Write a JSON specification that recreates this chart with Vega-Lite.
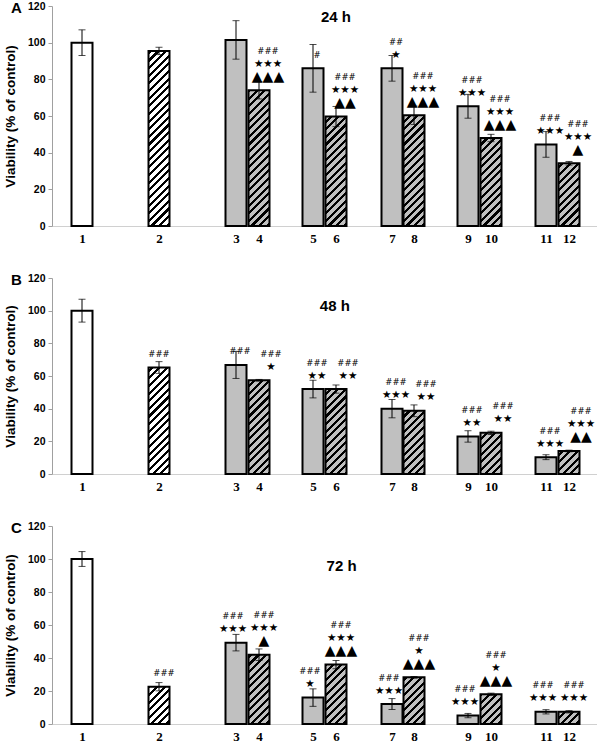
{
  "$schema": "https://vega.github.io/schema/vega-lite/v6.json",
  "padding": {"left": 3, "top": 0, "right": 0, "bottom": 0},
  "background": "white",
  "spacing": 27,
  "config": {"view": {"stroke": null}, "axis": {"grid": false},
    "axisY": {"tickCount": 7, "labelOverlap": false, "tickSize": 4, "tickColor": "#a0a0a0", "domainColor": "#a0a0a0", "labelFont": "Liberation Sans", "labelFontWeight": "bold", "labelFontSize": 10.5, "labelColor": "black", "labelPadding": 3, "titleFont": "Liberation Sans", "titleFontWeight": "bold", "titleFontSize": 13.5, "titleColor": "black", "titlePadding": 10}},
  "params": [
    {"name": "hatch", "value": [
      {"offset":0,"color":"#000"},{"offset":0.0125,"color":"#000"},{"offset":0.0125,"color":"rgba(0,0,0,0)"},{"offset":0.03125,"color":"rgba(0,0,0,0)"},
      {"offset":0.03125,"color":"#000"},{"offset":0.04375,"color":"#000"},{"offset":0.04375,"color":"rgba(0,0,0,0)"},{"offset":0.0625,"color":"rgba(0,0,0,0)"},
      {"offset":0.0625,"color":"#000"},{"offset":0.075,"color":"#000"},{"offset":0.075,"color":"rgba(0,0,0,0)"},{"offset":0.09375,"color":"rgba(0,0,0,0)"},
      {"offset":0.09375,"color":"#000"},{"offset":0.10625,"color":"#000"},{"offset":0.10625,"color":"rgba(0,0,0,0)"},{"offset":0.125,"color":"rgba(0,0,0,0)"},
      {"offset":0.125,"color":"#000"},{"offset":0.1375,"color":"#000"},{"offset":0.1375,"color":"rgba(0,0,0,0)"},{"offset":0.15625,"color":"rgba(0,0,0,0)"},
      {"offset":0.15625,"color":"#000"},{"offset":0.16875,"color":"#000"},{"offset":0.16875,"color":"rgba(0,0,0,0)"},{"offset":0.1875,"color":"rgba(0,0,0,0)"},
      {"offset":0.1875,"color":"#000"},{"offset":0.2,"color":"#000"},{"offset":0.2,"color":"rgba(0,0,0,0)"},{"offset":0.21875,"color":"rgba(0,0,0,0)"},
      {"offset":0.21875,"color":"#000"},{"offset":0.23125,"color":"#000"},{"offset":0.23125,"color":"rgba(0,0,0,0)"},{"offset":0.25,"color":"rgba(0,0,0,0)"},
      {"offset":0.25,"color":"#000"},{"offset":0.2625,"color":"#000"},{"offset":0.2625,"color":"rgba(0,0,0,0)"},{"offset":0.28125,"color":"rgba(0,0,0,0)"},
      {"offset":0.28125,"color":"#000"},{"offset":0.29375,"color":"#000"},{"offset":0.29375,"color":"rgba(0,0,0,0)"},{"offset":0.3125,"color":"rgba(0,0,0,0)"},
      {"offset":0.3125,"color":"#000"},{"offset":0.325,"color":"#000"},{"offset":0.325,"color":"rgba(0,0,0,0)"},{"offset":0.34375,"color":"rgba(0,0,0,0)"},
      {"offset":0.34375,"color":"#000"},{"offset":0.35625,"color":"#000"},{"offset":0.35625,"color":"rgba(0,0,0,0)"},{"offset":0.375,"color":"rgba(0,0,0,0)"},
      {"offset":0.375,"color":"#000"},{"offset":0.3875,"color":"#000"},{"offset":0.3875,"color":"rgba(0,0,0,0)"},{"offset":0.40625,"color":"rgba(0,0,0,0)"},
      {"offset":0.40625,"color":"#000"},{"offset":0.41875,"color":"#000"},{"offset":0.41875,"color":"rgba(0,0,0,0)"},{"offset":0.4375,"color":"rgba(0,0,0,0)"},
      {"offset":0.4375,"color":"#000"},{"offset":0.45,"color":"#000"},{"offset":0.45,"color":"rgba(0,0,0,0)"},{"offset":0.46875,"color":"rgba(0,0,0,0)"},
      {"offset":0.46875,"color":"#000"},{"offset":0.48125,"color":"#000"},{"offset":0.48125,"color":"rgba(0,0,0,0)"},{"offset":0.5,"color":"rgba(0,0,0,0)"},
      {"offset":0.5,"color":"#000"},{"offset":0.5125,"color":"#000"},{"offset":0.5125,"color":"rgba(0,0,0,0)"},{"offset":0.53125,"color":"rgba(0,0,0,0)"},
      {"offset":0.53125,"color":"#000"},{"offset":0.54375,"color":"#000"},{"offset":0.54375,"color":"rgba(0,0,0,0)"},{"offset":0.5625,"color":"rgba(0,0,0,0)"},
      {"offset":0.5625,"color":"#000"},{"offset":0.575,"color":"#000"},{"offset":0.575,"color":"rgba(0,0,0,0)"},{"offset":0.59375,"color":"rgba(0,0,0,0)"},
      {"offset":0.59375,"color":"#000"},{"offset":0.60625,"color":"#000"},{"offset":0.60625,"color":"rgba(0,0,0,0)"},{"offset":0.625,"color":"rgba(0,0,0,0)"},
      {"offset":0.625,"color":"#000"},{"offset":0.6375,"color":"#000"},{"offset":0.6375,"color":"rgba(0,0,0,0)"},{"offset":0.65625,"color":"rgba(0,0,0,0)"},
      {"offset":0.65625,"color":"#000"},{"offset":0.66875,"color":"#000"},{"offset":0.66875,"color":"rgba(0,0,0,0)"},{"offset":0.6875,"color":"rgba(0,0,0,0)"},
      {"offset":0.6875,"color":"#000"},{"offset":0.7,"color":"#000"},{"offset":0.7,"color":"rgba(0,0,0,0)"},{"offset":0.71875,"color":"rgba(0,0,0,0)"},
      {"offset":0.71875,"color":"#000"},{"offset":0.73125,"color":"#000"},{"offset":0.73125,"color":"rgba(0,0,0,0)"},{"offset":0.75,"color":"rgba(0,0,0,0)"},
      {"offset":0.75,"color":"#000"},{"offset":0.7625,"color":"#000"},{"offset":0.7625,"color":"rgba(0,0,0,0)"},{"offset":0.78125,"color":"rgba(0,0,0,0)"},
      {"offset":0.78125,"color":"#000"},{"offset":0.79375,"color":"#000"},{"offset":0.79375,"color":"rgba(0,0,0,0)"},{"offset":0.8125,"color":"rgba(0,0,0,0)"},
      {"offset":0.8125,"color":"#000"},{"offset":0.825,"color":"#000"},{"offset":0.825,"color":"rgba(0,0,0,0)"},{"offset":0.84375,"color":"rgba(0,0,0,0)"},
      {"offset":0.84375,"color":"#000"},{"offset":0.85625,"color":"#000"},{"offset":0.85625,"color":"rgba(0,0,0,0)"},{"offset":0.875,"color":"rgba(0,0,0,0)"},
      {"offset":0.875,"color":"#000"},{"offset":0.8875,"color":"#000"},{"offset":0.8875,"color":"rgba(0,0,0,0)"},{"offset":0.90625,"color":"rgba(0,0,0,0)"},
      {"offset":0.90625,"color":"#000"},{"offset":0.91875,"color":"#000"},{"offset":0.91875,"color":"rgba(0,0,0,0)"},{"offset":0.9375,"color":"rgba(0,0,0,0)"},
      {"offset":0.9375,"color":"#000"},{"offset":0.95,"color":"#000"},{"offset":0.95,"color":"rgba(0,0,0,0)"},{"offset":0.96875,"color":"rgba(0,0,0,0)"},
      {"offset":0.96875,"color":"#000"},{"offset":0.98125,"color":"#000"},{"offset":0.98125,"color":"rgba(0,0,0,0)"},{"offset":1,"color":"rgba(0,0,0,0)"}
    ]}
  ],
  "datasets": {
    "barsA": [
      {"bar":1,"v":100,"e":7},{"bar":2,"v":95.5,"e":2},{"bar":3,"v":101.5,"e":10.5},{"bar":4,"v":74,"e":4.7},
      {"bar":5,"v":86,"e":13},{"bar":6,"v":59.7,"e":5.5},{"bar":7,"v":86,"e":7},{"bar":8,"v":60.4,"e":5},
      {"bar":9,"v":65.3,"e":6.5},{"bar":10,"v":48,"e":2},{"bar":11,"v":44.5,"e":7},{"bar":12,"v":34.2,"e":1}
    ],
    "barsB": [
      {"bar":1,"v":100,"e":7},{"bar":2,"v":65.2,"e":3.6},{"bar":3,"v":66.8,"e":8.3},{"bar":4,"v":57.4,"e":0.5},
      {"bar":5,"v":52,"e":5.4},{"bar":6,"v":52,"e":2.5},{"bar":7,"v":40,"e":5.6},{"bar":8,"v":38.7,"e":3.6},
      {"bar":9,"v":23,"e":3.5},{"bar":10,"v":25.2,"e":1},{"bar":11,"v":10.3,"e":1.5},{"bar":12,"v":14.1,"e":0.5}
    ],
    "barsC": [
      {"bar":1,"v":100,"e":4.5},{"bar":2,"v":22.6,"e":2.5},{"bar":3,"v":49.3,"e":5},{"bar":4,"v":42,"e":3.5},
      {"bar":5,"v":16,"e":5.3},{"bar":6,"v":36,"e":2.5},{"bar":7,"v":12.1,"e":3.3},{"bar":8,"v":28.3,"e":0.5},
      {"bar":9,"v":5.1,"e":1.3},{"bar":10,"v":18,"e":0.7},{"bar":11,"v":7.4,"e":1.3},{"bar":12,"v":7.4,"e":0.7}
    ],
    "notesA": [
      {"bar":4,"k":2,"t":"###"},{"bar":4,"k":1,"t":"★★★"},{"bar":4,"k":0,"t":"▲▲▲"},
      {"bar":5,"k":0,"t":"#"},
      {"bar":6,"k":2,"t":"###"},{"bar":6,"k":1,"t":"★★★"},{"bar":6,"k":0,"t":"▲▲"},
      {"bar":7,"k":1,"t":"##"},{"bar":7,"k":0,"t":"★"},
      {"bar":8,"k":2,"t":"###"},{"bar":8,"k":1,"t":"★★★"},{"bar":8,"k":0,"t":"▲▲▲"},
      {"bar":9,"k":1,"t":"###"},{"bar":9,"k":0,"t":"★★★"},
      {"bar":10,"k":2,"t":"###"},{"bar":10,"k":1,"t":"★★★"},{"bar":10,"k":0,"t":"▲▲▲"},
      {"bar":11,"k":1,"t":"###"},{"bar":11,"k":0,"t":"★★★"},
      {"bar":12,"k":2,"t":"###"},{"bar":12,"k":1,"t":"★★★"},{"bar":12,"k":0,"t":"▲"}
    ],
    "notesB": [
      {"bar":2,"k":0,"t":"###"},
      {"bar":3,"k":0,"t":"###"},
      {"bar":4,"k":1,"t":"###"},{"bar":4,"k":0,"t":"★"},
      {"bar":5,"k":1,"t":"###"},{"bar":5,"k":0,"t":"★★"},
      {"bar":6,"k":1,"t":"###"},{"bar":6,"k":0,"t":"★★"},
      {"bar":7,"k":1,"t":"###"},{"bar":7,"k":0,"t":"★★★"},
      {"bar":8,"k":1,"t":"###"},{"bar":8,"k":0,"t":"★★"},
      {"bar":9,"k":1,"t":"###"},{"bar":9,"k":0,"t":"★★"},
      {"bar":10,"k":1,"t":"###"},{"bar":10,"k":0,"t":"★★"},
      {"bar":11,"k":1,"t":"###"},{"bar":11,"k":0,"t":"★★★"},
      {"bar":12,"k":2,"t":"###"},{"bar":12,"k":1,"t":"★★★"},{"bar":12,"k":0,"t":"▲▲"}
    ],
    "notesC": [
      {"bar":2,"k":0,"t":"###"},
      {"bar":3,"k":1,"t":"###"},{"bar":3,"k":0,"t":"★★★"},
      {"bar":4,"k":2,"t":"###"},{"bar":4,"k":1,"t":"★★★"},{"bar":4,"k":0,"t":"▲"},
      {"bar":5,"k":1,"t":"###"},{"bar":5,"k":0,"t":"★"},
      {"bar":6,"k":2,"t":"###"},{"bar":6,"k":1,"t":"★★★"},{"bar":6,"k":0,"t":"▲▲▲"},
      {"bar":7,"k":1,"t":"###"},{"bar":7,"k":0,"t":"★★★"},
      {"bar":8,"k":2,"t":"###"},{"bar":8,"k":1,"t":"★"},{"bar":8,"k":0,"t":"▲▲▲"},
      {"bar":9,"k":1,"t":"###"},{"bar":9,"k":0,"t":"★★★"},
      {"bar":10,"k":2,"t":"###"},{"bar":10,"k":1,"t":"★"},{"bar":10,"k":0,"t":"▲▲▲"},
      {"bar":11,"k":1,"t":"###"},{"bar":11,"k":0,"t":"★★★"},
      {"bar":12,"k":1,"t":"###"},{"bar":12,"k":0,"t":"★★★"}
    ]
  },
  "vconcat": [
    {
      "width": 545, "height": 220,
      "data": {"name": "barsA"},
      "layer": [
        {"mark": {"type": "bar", "size": 21},
         "encoding": {
           "x": {"field": "bar", "type": "quantitative",
             "scale": {"domain": [0,1,2,3,4,5,6,7,8,9,10,11,12,13], "range": [0,30,107,184,207,261,284,340,362,416,439,494,517,545], "nice": false, "zero": false},
             "axis": {"values": [1,2,3,4,5,6,7,8,9,10,11,12], "format": "d", "title": null, "ticks": false, "grid": false, "domainColor": "#d0d0d0", "labelFont": "Liberation Serif", "labelFontWeight": "bold", "labelFontSize": 13, "labelColor": "black", "labelPadding": 6, "labelFlush": false, "labelOverlap": false}},
           "y": {"field": "v", "type": "quantitative", "title": "Viability (% of control)", "scale": {"domain": [0,120], "nice": false},
            "axis": {"values": [0,20,40,60,80,100,120], "tickCount": 7, "labelOverlap": false, "grid": false}},
           "fill": {"condition": {"test": "datum.bar <= 2", "value": "white"}, "value": "#c0c0c0"}}},
        {"transform": [{"filter": "datum.bar % 2 == 0"}],
         "mark": {"type": "bar", "size": 21, "fill": {"expr": "{gradient: 'linear', x1: 0, y1: 0, x2: 0.10507, y2: 1.10078, stops: hatch}"}},
         "encoding": {"x": {"field": "bar", "type": "quantitative"}, "y": {"datum": 0}, "y2": {"datum": 120}}},
        {"transform": [{"filter": "datum.bar % 2 == 0"}],
         "mark": {"type": "bar", "size": 22, "fill": "white"},
         "encoding": {"x": {"field": "bar", "type": "quantitative"}, "y": {"field": "v", "type": "quantitative", "title": "Viability (% of control)"}, "y2": {"datum": 120}}},
        {"mark": {"type": "bar", "size": 21, "fill": "transparent", "stroke": "black", "strokeWidth": 2},
         "encoding": {"x": {"field": "bar", "type": "quantitative"}, "y": {"field": "v", "type": "quantitative", "title": "Viability (% of control)"}}},
        {"mark": {"type": "errorbar", "color": "black", "ticks": {"size": 7}, "rule": {"strokeWidth": 1}},
         "encoding": {"x": {"field": "bar", "type": "quantitative"}, "y": {"field": "v", "type": "quantitative", "title": "Viability (% of control)"}, "yError": {"field": "e"}}},
        {"data": {"name": "notesA"},
         "transform": [{"lookup": "bar", "from": {"data": {"name": "barsA"}, "key": "bar", "fields": ["v"]}}],
         "mark": {"type": "text", "font": "DejaVu Sans", "baseline": "middle", "color": "black", "dx": {"expr": "datum.bar % 2 == 0 ? 9 : 4"}, "dy": {"expr": "-13.5 - 13 * datum.k"}},
         "encoding": {"x": {"field": "bar", "type": "quantitative"}, "y": {"field": "v", "type": "quantitative", "title": "Viability (% of control)"}, "text": {"field": "t"},
           "size": {"condition": [{"test": "indexof(datum.t, '#') >= 0", "value": 8.5}, {"test": "indexof(datum.t, '▲') >= 0", "value": 14}], "value": 10.5}}},
        {"data": {"values": [{"label": "24 h"}]},
         "mark": {"type": "text", "font": "Liberation Sans", "fontWeight": "bold", "fontSize": 15, "color": "black", "baseline": "middle"},
         "encoding": {"x": {"datum": 6}, "y": {"datum": 114}, "text": {"field": "label"}}},
        {"data": {"values": [{"label": "A"}]},
         "mark": {"type": "text", "font": "Liberation Sans", "fontWeight": "bold", "fontSize": 15, "color": "black", "baseline": "middle"},
         "encoding": {"x": {"datum": -1.45}, "y": {"datum": 119}, "text": {"field": "label"}}}
      ]
    },
    {
      "width": 545, "height": 196,
      "data": {"name": "barsB"},
      "layer": [
        {"mark": {"type": "bar", "size": 21},
         "encoding": {
           "x": {"field": "bar", "type": "quantitative",
             "scale": {"domain": [0,1,2,3,4,5,6,7,8,9,10,11,12,13], "range": [0,30,107,184,207,261,284,340,362,416,439,494,517,545], "nice": false, "zero": false},
             "axis": {"values": [1,2,3,4,5,6,7,8,9,10,11,12], "format": "d", "title": null, "ticks": false, "grid": false, "domainColor": "#d0d0d0", "labelFont": "Liberation Serif", "labelFontWeight": "bold", "labelFontSize": 13, "labelColor": "black", "labelPadding": 6, "labelFlush": false, "labelOverlap": false}},
           "y": {"field": "v", "type": "quantitative", "title": "Viability (% of control)", "scale": {"domain": [0,120], "nice": false},
            "axis": {"values": [0,20,40,60,80,100,120], "tickCount": 7, "labelOverlap": false, "grid": false}},
           "fill": {"condition": {"test": "datum.bar <= 2", "value": "white"}, "value": "#c0c0c0"}}},
        {"transform": [{"filter": "datum.bar % 2 == 0"}],
         "mark": {"type": "bar", "size": 21, "fill": {"expr": "{gradient: 'linear', x1: 0, y1: 0, x2: 0.13207, y2: 1.23269, stops: hatch}"}},
         "encoding": {"x": {"field": "bar", "type": "quantitative"}, "y": {"datum": 0}, "y2": {"datum": 120}}},
        {"transform": [{"filter": "datum.bar % 2 == 0"}],
         "mark": {"type": "bar", "size": 22, "fill": "white"},
         "encoding": {"x": {"field": "bar", "type": "quantitative"}, "y": {"field": "v", "type": "quantitative", "title": "Viability (% of control)"}, "y2": {"datum": 120}}},
        {"mark": {"type": "bar", "size": 21, "fill": "transparent", "stroke": "black", "strokeWidth": 2},
         "encoding": {"x": {"field": "bar", "type": "quantitative"}, "y": {"field": "v", "type": "quantitative", "title": "Viability (% of control)"}}},
        {"mark": {"type": "errorbar", "color": "black", "ticks": {"size": 7}, "rule": {"strokeWidth": 1}},
         "encoding": {"x": {"field": "bar", "type": "quantitative"}, "y": {"field": "v", "type": "quantitative", "title": "Viability (% of control)"}, "yError": {"field": "e"}}},
        {"data": {"name": "notesB"},
         "transform": [{"lookup": "bar", "from": {"data": {"name": "barsB"}, "key": "bar", "fields": ["v"]}}],
         "mark": {"type": "text", "font": "DejaVu Sans", "baseline": "middle", "color": "black", "dx": {"expr": "datum.bar == 2 ? 0 : (datum.bar % 2 == 0 ? 12 : 4)"}, "dy": {"expr": "-13.5 - 13 * datum.k"}},
         "encoding": {"x": {"field": "bar", "type": "quantitative"}, "y": {"field": "v", "type": "quantitative", "title": "Viability (% of control)"}, "text": {"field": "t"},
           "size": {"condition": [{"test": "indexof(datum.t, '#') >= 0", "value": 8.5}, {"test": "indexof(datum.t, '▲') >= 0", "value": 14}], "value": 10.5}}},
        {"data": {"values": [{"label": "48 h"}]},
         "mark": {"type": "text", "font": "Liberation Sans", "fontWeight": "bold", "fontSize": 15, "color": "black", "baseline": "middle"},
         "encoding": {"x": {"datum": 5.95}, "y": {"datum": 103}, "text": {"field": "label"}}},
        {"data": {"values": [{"label": "B"}]},
         "mark": {"type": "text", "font": "Liberation Sans", "fontWeight": "bold", "fontSize": 15, "color": "black", "baseline": "middle"},
         "encoding": {"x": {"datum": -1.45}, "y": {"datum": 119}, "text": {"field": "label"}}}
      ]
    },
    {
      "width": 545, "height": 198,
      "data": {"name": "barsC"},
      "layer": [
        {"mark": {"type": "bar", "size": 21},
         "encoding": {
           "x": {"field": "bar", "type": "quantitative",
             "scale": {"domain": [0,1,2,3,4,5,6,7,8,9,10,11,12,13], "range": [0,30,107,184,207,261,284,340,362,416,439,494,517,545], "nice": false, "zero": false},
             "axis": {"values": [1,2,3,4,5,6,7,8,9,10,11,12], "format": "d", "title": null, "ticks": false, "grid": false, "domainColor": "#d0d0d0", "labelFont": "Liberation Serif", "labelFontWeight": "bold", "labelFontSize": 13, "labelColor": "black", "labelPadding": 6, "labelFlush": false, "labelOverlap": false}},
           "y": {"field": "v", "type": "quantitative", "title": "Viability (% of control)", "scale": {"domain": [0,120], "nice": false},
            "axis": {"values": [0,20,40,60,80,100,120], "tickCount": 7, "labelOverlap": false, "grid": false}},
           "fill": {"condition": {"test": "datum.bar <= 2", "value": "white"}, "value": "#c0c0c0"}}},
        {"transform": [{"filter": "datum.bar % 2 == 0"}],
         "mark": {"type": "bar", "size": 21, "fill": {"expr": "{gradient: 'linear', x1: 0, y1: 0, x2: 0.12945, y2: 1.2205, stops: hatch}"}},
         "encoding": {"x": {"field": "bar", "type": "quantitative"}, "y": {"datum": 0}, "y2": {"datum": 120}}},
        {"transform": [{"filter": "datum.bar % 2 == 0"}],
         "mark": {"type": "bar", "size": 22, "fill": "white"},
         "encoding": {"x": {"field": "bar", "type": "quantitative"}, "y": {"field": "v", "type": "quantitative", "title": "Viability (% of control)"}, "y2": {"datum": 120}}},
        {"mark": {"type": "bar", "size": 21, "fill": "transparent", "stroke": "black", "strokeWidth": 2},
         "encoding": {"x": {"field": "bar", "type": "quantitative"}, "y": {"field": "v", "type": "quantitative", "title": "Viability (% of control)"}}},
        {"mark": {"type": "errorbar", "color": "black", "ticks": {"size": 7}, "rule": {"strokeWidth": 1}},
         "encoding": {"x": {"field": "bar", "type": "quantitative"}, "y": {"field": "v", "type": "quantitative", "title": "Viability (% of control)"}, "yError": {"field": "e"}}},
        {"data": {"name": "notesC"},
         "transform": [{"lookup": "bar", "from": {"data": {"name": "barsC"}, "key": "bar", "fields": ["v"]}}],
         "mark": {"type": "text", "font": "DejaVu Sans", "baseline": "middle", "color": "black", "dx": {"expr": "datum.bar % 2 == 0 ? 5 : -3"}, "dy": {"expr": "-13.5 - 13 * datum.k"}},
         "encoding": {"x": {"field": "bar", "type": "quantitative"}, "y": {"field": "v", "type": "quantitative", "title": "Viability (% of control)"}, "text": {"field": "t"},
           "size": {"condition": [{"test": "indexof(datum.t, '#') >= 0", "value": 8.5}, {"test": "indexof(datum.t, '▲') >= 0", "value": 14}], "value": 10.5}}},
        {"data": {"values": [{"label": "72 h"}]},
         "mark": {"type": "text", "font": "Liberation Sans", "fontWeight": "bold", "fontSize": 15, "color": "black", "baseline": "middle"},
         "encoding": {"x": {"datum": 6.1}, "y": {"datum": 96}, "text": {"field": "label"}}},
        {"data": {"values": [{"label": "C"}]},
         "mark": {"type": "text", "font": "Liberation Sans", "fontWeight": "bold", "fontSize": 15, "color": "black", "baseline": "middle"},
         "encoding": {"x": {"datum": -1.45}, "y": {"datum": 119}, "text": {"field": "label"}}}
      ]
    }
  ]
}
